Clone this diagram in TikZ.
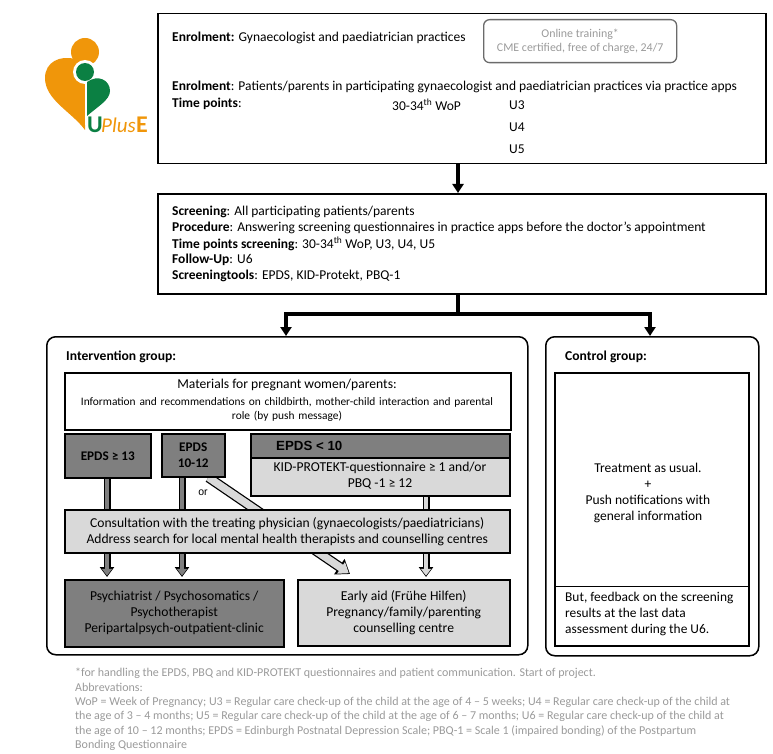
\documentclass[tikz,border=0pt]{standalone}
\usepackage{fontspec}
\setmainfont{Carlito}
\usetikzlibrary{arrows.meta,backgrounds,calc}
\definecolor{dk}{HTML}{7F7F7F}
\definecolor{lt}{HTML}{D9D9D9}
\definecolor{foot}{HTML}{9A9A9A}
\definecolor{logoO}{HTML}{F0960A}
\definecolor{logoG}{HTML}{0B8043}
\newcommand{\fs}[1]{\fontsize{#1}{#1}\selectfont}
\tikzset{
 x=1pt,y=-1pt,
 box/.style={draw=black,line width=1.5pt,anchor=north west,inner sep=0pt,align=center},
 txt/.style={anchor=west,inner sep=0pt,font=\fs{13.5},align=left},
 ctxt/.style={anchor=center,inner sep=0pt,font=\fs{13.5},align=center},
 ftxt/.style={anchor=west,inner sep=0pt,font=\fs{12},text=foot},
 flow/.style={line width=3.5pt,draw=black,-{Triangle[length=9pt,width=11pt]}},
 group/.style={draw=black,line width=1.5pt,rounded corners=9pt,anchor=north west,inner sep=0pt},
 blockouter/.style={draw=black,line width=#1,-{Triangle[length=10pt,width=14pt]}},
 blockinner/.style={line width=#1,-{Triangle[length=6.8pt,width=10pt]},shorten >=1.4pt,shorten <=0pt},
}
\begin{document}
\begin{tikzpicture}
\useasboundingbox (0,0) rectangle (773,754);
% logo
\fill[logoO] (85,130) .. controls (72,112) and (45,100) .. (45,78) .. controls (45,62) and (60,55) .. (75,59) -- (85,64) -- cycle;
\fill[logoO] (85,52) circle (14);
\fill[white] (85,72) circle (12);
\fill[white] (85,66) rectangle (87,125);
\fill[logoG] (85,72) circle (9);
\fill[logoG] (87,82) .. controls (98,74) and (110,80) .. (110,91) .. controls (110,100) and (97,107) .. (87,116) -- cycle;
\node[anchor=west,inner sep=0pt,text=logoG,font=\fs{24}\bfseries] (logoU) at (87,125) {U};
\node[anchor=west,inner sep=0pt,text=logoO,font=\fs{21}\itshape] (logoP) at (101,125) {Plus};
\node[anchor=west,inner sep=0pt,text=logoO,font=\fs{24}\bfseries] (logoE) at (136,125) {E};
% box 1
\node[box,minimum width=608pt,minimum height=150pt] (b1) at (157,13) {};
\node[txt] (t1) at (172,38) {\textbf{Enrolment:} Gynaecologist and paediatrician practices};
\node[draw=black!58,line width=1.3pt,rounded corners=6pt,anchor=north west,minimum width=193pt,minimum height=43pt,inner sep=0pt,align=center,text=foot,font=\fs{11.9}] (train) at (483,19) {Online training*\\[2pt]CME certified, free of charge, 24/7};
\node[txt] (t2) at (172,87) {\textbf{Enrolment}: Patients/parents in participating gynaecologist and paediatrician practices via practice apps};
\node[txt] (t3) at (172,104) {\textbf{Time points}:};
\node[txt] (t4) at (392,105) {30-34\textsuperscript{th} WoP};
\node[txt] (u3) at (509,105) {U3};
\node[txt] (u4) at (509,127) {U4};
\node[txt] (u5) at (509,149) {U5};
% box 2
\node[box,minimum width=608pt,minimum height=100pt] (b2) at (157,193) {};
\node[txt] (s1) at (172,212) {\textbf{Screening}: All participating patients/parents};
\node[txt] (s2) at (172,228) {\textbf{Procedure}: Answering screening questionnaires in practice apps before the doctor’s appointment};
\node[txt] (s3) at (172,244) {\textbf{Time points screening}: 30-34\textsuperscript{th} WoP, U3, U4, U5};
\node[txt] (s4) at (172,260) {\textbf{Follow-Up}: U6};
\node[txt] (s5) at (172,276) {\textbf{Screeningtools}: EPDS, KID-Protekt, PBQ-1};
% groups
\node[group,minimum width=481pt,minimum height=318pt] (ig) at (46,336) {};
\node[group,minimum width=213pt,minimum height=319pt] (cg) at (545,336) {};
\node[txt,font=\fs{13.6}\bfseries] (igt) at (66,357) {Intervention group:};
\node[txt,font=\fs{13.6}\bfseries] (cgt) at (565,357) {Control group:};
% main flow
\draw[flow] (b1.south -| 458,0) -- (b2.north -| 458,0);
\coordinate (split) at (458,314);
\draw[line width=3.5pt] (b2.south -| split) -- (split);
\draw[flow] (split) -| (ig.north -| 286,0);
\draw[flow] (split) -| (cg.north -| 650,0);
% intervention
\node[box,minimum width=446pt,minimum height=57pt] (mat) at (64,372) {};
\node[ctxt,font=\fs{13.6}] (m1) at (287,385) {Materials for pregnant women/parents:};
\node[ctxt,font=\fs{11.4},text width=440pt] (m2) at (287,409.5) {Information and recommendations on childbirth, mother-child interaction and parental\\[3pt]role (by push message)};
\node[box,fill=dk,minimum width=86pt,minimum height=44pt,font=\fs{13.2}\bfseries] (e13) at (64,433) {EPDS ≥ 13};
\node[box,fill=dk,minimum width=63pt,minimum height=43pt,font=\fs{13.2}\bfseries] (e12) at (161,433) {EPDS\\[3pt]10-12};
\node[box,fill=lt,minimum width=259pt,minimum height=62pt] (e10b) at (250,433) {};
\node[box,fill=dk,minimum width=259pt,minimum height=24pt] (e10) at (250,433) {};
\node[anchor=west,inner sep=0pt,font=\fontspec{Liberation Sans}\fs{13.3}\bfseries] (e10t) at (276,446) {EPDS < 10};
\node[ctxt,font=\fs{13.6}] (e10x) at (380,476) {KID-PROTEKT-questionnaire ≥ 1 and/or\\[2.4pt]PBQ -1 ≥ 12};
\node[ctxt,font=\fontspec{Liberation Sans}\fs{10.5}] (orl) at (203,493) {or};
\node[box,fill=lt,minimum width=445pt,minimum height=43pt,font=\fs{13.6}] (cons) at (64,509) {Consultation with the treating physician (gynaecologists/paediatricians)\\[2.4pt]Address search for local mental health therapists and counselling centres};
\node[box,fill=dk,minimum width=219pt,minimum height=67pt,font=\fs{13.6}] (psy) at (64,579) {Psychiatrist / Psychosomatics /\\[2.4pt]Psychotherapist\\[2.4pt]Peripartalpsych-outpatient-clinic};
\node[box,fill=lt,minimum width=212pt,minimum height=66pt,font=\fs{13.6}] (aid) at (297,579) {Early aid (Frühe Hilfen)\\[2.4pt]Pregnancy/family/parenting\\[2.4pt]counselling centre};
% block arrows
\begin{pgfonlayer}{background}
\coordinate (a1s) at (e13.south -| 107,0);
\coordinate (a1e) at (psy.north -| 107,0);
\coordinate (a2s) at (e12.south -| 182,0);
\coordinate (a2e) at (psy.north -| 182,0);
\coordinate (a3s) at (e10b.south -| 426,0);
\coordinate (a3e) at (aid.north -| 426,0);
\coordinate (a4s) at ($(e12.south east)+(-17,0)$);
\coordinate (a4e) at ($(aid.north west)+(53,-5)$);
\draw[blockouter=7pt] (a1s) -- ($(a1e)+(0,-2)$);
\draw[blockinner=4.5pt,draw=dk] (a1s) -- ($(a1e)+(0,-2)$);
\draw[blockouter=7pt] (a2s) -- ($(a2e)+(0,-2)$);
\draw[blockinner=4.5pt,draw=dk] (a2s) -- ($(a2e)+(0,-2)$);
\draw[blockouter=7pt] (a3s) -- ($(a3e)+(0,-2)$);
\draw[blockinner=4.5pt,draw=lt] (a3s) -- ($(a3e)+(0,-2)$);
\draw[blockouter=10pt,-{Triangle[length=13pt,width=18pt]}] (a4s) -- (a4e);
\draw[blockinner=7.5pt,draw=lt,-{Triangle[length=9.5pt,width=13.5pt]}] (a4s) -- (a4e);
\end{pgfonlayer}
% control
\node[box,minimum width=194pt,minimum height=273pt] (ctl) at (554,372) {};
\node[ctxt,font=\fs{13.5}] (c1) at (648,493) {Treatment as usual.\\[2.5pt]+\\[2.5pt]Push notifications with\\[2.5pt]general information};
\coordinate (cdl) at (554,586);
\draw[line width=1pt] (cdl) -- (cdl -| ctl.east);
\node[anchor=north west,inner sep=0pt,font=\fs{13.4},align=left] (c2) at (565,592) {But, feedback on the screening\\[2.6pt]results at the last data\\[2.6pt]assessment during the U6.};
% footnotes
\node[ftxt] (f1) at (75,673) {*for handling the EPDS, PBQ and KID-PROTEKT questionnaires and patient communication. Start of project.};
\node[ftxt] (f2) at (75,687) {Abbrevations:};
\node[ftxt] (f3) at (75,702) {WoP = Week of Pregnancy; U3 = Regular care check-up of the child at the age of 4 – 5 weeks; U4 = Regular care check-up of the child at};
\node[ftxt] (f4) at (75,716) {the age of 3 – 4 months; U5 = Regular care check-up of the child at the age of 6 – 7 months; U6 = Regular care check-up of the child at};
\node[ftxt] (f5) at (75,731) {the age of 10 – 12 months; EPDS = Edinburgh Postnatal Depression Scale; PBQ-1 = Scale 1 (impaired bonding) of the Postpartum};
\node[ftxt] (f6) at (75,745) {Bonding Questionnaire};
\end{tikzpicture}
\end{document}
